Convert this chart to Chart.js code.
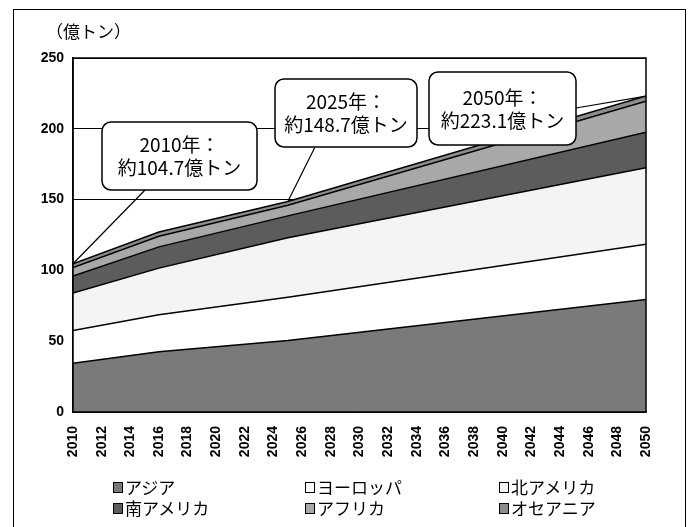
<!DOCTYPE html>
<html>
<head>
<meta charset="utf-8">
<script src="https://cdn.jsdelivr.net/npm/chart.js@4.4.0/dist/chart.umd.min.js"></script>
<style>
  body { margin: 0; background: #fff; }
  #wrap { position: relative; width: 688px; height: 527px; font-family: "Noto Sans CJK JP", sans-serif; color: #000; }
  #frame { position: absolute; left: 13px; top: 9px; width: 673px; height: 530px; border: 1.5px solid #000; box-sizing: border-box; pointer-events: none; }
  #chart { position: absolute; left: 0; top: 0; }
  #unit { position: absolute; left: 46px; top: 20px; font-size: 17px; line-height: 22px; }
  .lg { position: absolute; font-size: 17px; line-height: 20px; white-space: nowrap; }
  .lg i { display: inline-block; width: 8px; height: 9px; border: 1px solid #000; margin-right: 2px; vertical-align: 1px; }
</style>
</head>
<body>
<div id="wrap">
  <canvas id="chart" width="688" height="527"></canvas>
  <div id="frame"></div>
  <div id="unit">（億トン）</div>
  <div id="legend"></div>
</div>
<script>
// years (kinks of the stacked areas)
const years = [2010, 2016, 2025, 2050];

// 億トン, by region (bottom to top of the stack)
const asia = [34.5, 42.6, 50.5, 79.5];
const europe = [23, 26, 30.5, 39];
const northAmerica = [26.5, 33, 42, 54];
const southAmerica = [12, 15, 15.5, 25];
const africa = [6, 7.5, 7.5, 22];
const oceania = [2.7, 3, 2.7, 3.6];

const regionNames = ["アジア", "ヨーロッパ", "北アメリカ", "南アメリカ", "アフリカ", "オセアニア"];
const regionValues = [asia, europe, northAmerica, southAmerica, africa, oceania];
const regionColors = ["#7a7a7a", "#ffffff", "#f4f4f4", "#5c5c5c", "#a8a8a8", "#8c8c8c"];

const yTicks = [0, 50, 100, 150, 200, 250];

// callout boxes: which year index they point at, and their text
const callouts = [
  { idx: 0, box: [102, 122, 155, 68], from: [145, 190], lines: ["2010年：", "約104.7億トン"] },
  { idx: 2, box: [275, 79, 142, 68], from: [315, 147], lines: ["2025年：", "約148.7億トン"] },
  { idx: 3, box: [429, 72, 147, 73], from: [576, 108], lines: ["2050年：", "約223.1億トン"] }
];

const datasets = regionNames.map((name, i) => ({
  label: name,
  data: years.map((yr, j) => ({ x: yr, y: regionValues[i][j] })),
  backgroundColor: regionColors[i],
  borderColor: "#000",
  borderWidth: 1.5,
  pointRadius: 0,
  tension: 0,
  fill: i === 0 ? "origin" : "-1"
}));

function roundRect(ctx, x, y, w, h, r) {
  ctx.beginPath();
  ctx.moveTo(x + r, y);
  ctx.arcTo(x + w, y, x + w, y + h, r);
  ctx.arcTo(x + w, y + h, x, y + h, r);
  ctx.arcTo(x, y + h, x, y, r);
  ctx.arcTo(x, y, x + w, y, r);
  ctx.closePath();
}

const frameAndCallouts = {
  id: "frameAndCallouts",
  afterDatasetsDraw(chart) {
    const ctx = chart.ctx;
    const a = chart.chartArea;
    const xs = chart.scales.x, ys = chart.scales.y;
    ctx.save();
    ctx.strokeStyle = "#000";
    ctx.lineWidth = 1.5;
    ctx.strokeRect(a.left, a.top, a.right - a.left, a.bottom - a.top);

    callouts.forEach(c => {
      const total = regionValues.reduce((s, arr) => s + arr[c.idx], 0);
      const px = xs.getPixelForValue(years[c.idx]);
      const py = ys.getPixelForValue(total);
      ctx.lineWidth = 1.2;
      ctx.beginPath();
      ctx.moveTo(c.from[0], c.from[1]);
      ctx.lineTo(px, py);
      ctx.stroke();

      const [bx, by, bw, bh] = c.box;
      roundRect(ctx, bx, by, bw, bh, 9);
      ctx.fillStyle = "#fff";
      ctx.fill();
      ctx.lineWidth = 1.5;
      ctx.stroke();

      ctx.fillStyle = "#000";
      ctx.font = '19px "Noto Sans CJK JP"';
      ctx.textAlign = "center";
      ctx.textBaseline = "middle";
      const cx = bx + bw / 2, cy = by + bh / 2;
      ctx.fillText(c.lines[0], cx, cy - 11);
      ctx.fillText(c.lines[1], cx, cy + 12);
    });
    ctx.restore();
  }
};

new Chart(document.getElementById("chart"), {
  type: "line",
  data: { datasets },
  options: {
    responsive: false,
    animation: false,
    layout: { padding: { left: 20, top: 58, right: 42, bottom: 55 } },
    plugins: {
      legend: { display: false },
      tooltip: { enabled: false }
    },
    scales: {
      x: {
        type: "linear",
        min: 2010,
        max: 2050,
        afterFit: s => { s.height = 60; },
        grid: { display: false, drawTicks: false },
        border: { color: "#000", width: 1.5 },
        ticks: {
          stepSize: 2,
          minRotation: 90,
          maxRotation: 90,
          padding: 14,
          color: "#000",
          font: { family: "Liberation Sans", size: 14, weight: "bold" },
          callback: v => String(v)
        }
      },
      y: {
        stacked: true,
        min: 0,
        max: 250,
        afterFit: s => { s.width = 53; },
        afterBuildTicks: s => { s.ticks = yTicks.map(v => ({ value: v })); },
        grid: { color: "#000", lineWidth: 1, drawTicks: false },
        border: { color: "#000", width: 1.5 },
        ticks: {
          padding: 9,
          color: "#000",
          font: { family: "Liberation Sans", size: 14, weight: "bold" }
        }
      }
    }
  },
  plugins: [frameAndCallouts]
});

// legend, 3 columns x 2 rows
const legendCols = [113, 305, 499];
const legendRows = [477, 498];
const legendEl = document.getElementById("legend");
regionNames.forEach((name, i) => {
  const d = document.createElement("div");
  d.className = "lg";
  d.style.left = legendCols[i % 3] + "px";
  d.style.top = legendRows[Math.floor(i / 3)] + "px";
  d.innerHTML = '<i style="background:' + regionColors[i] + '"></i>' + name;
  legendEl.appendChild(d);
});
</script>
</body>
</html>
